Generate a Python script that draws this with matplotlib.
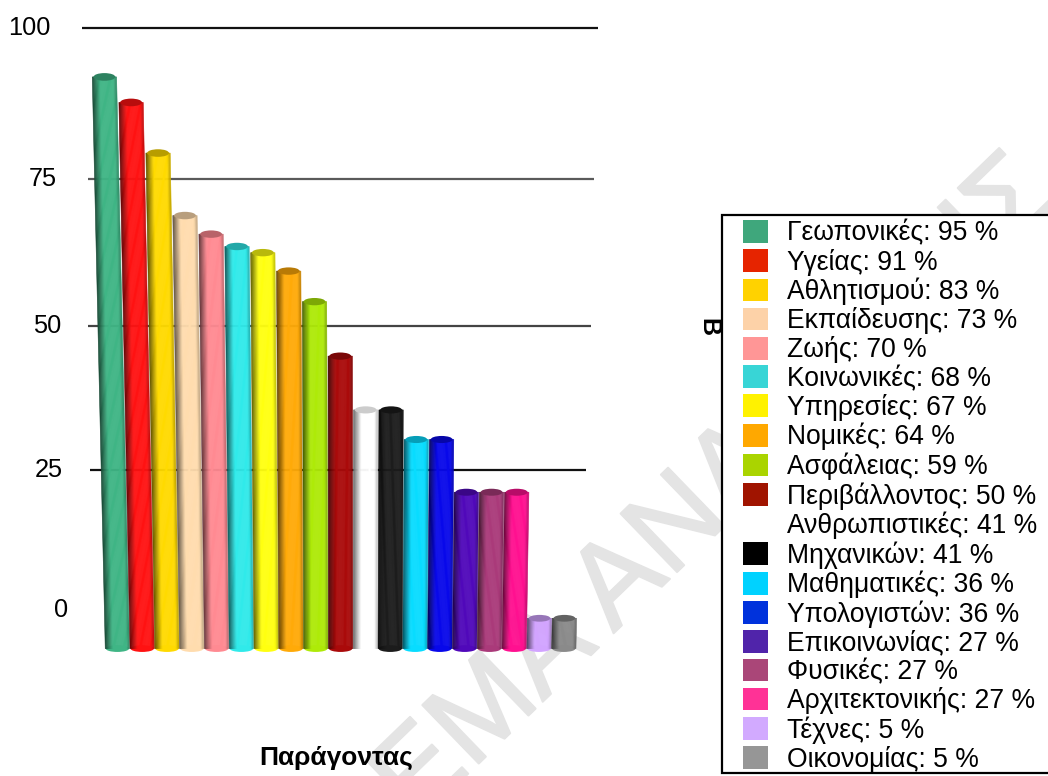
import numpy as np
import matplotlib
matplotlib.use("Agg")
import matplotlib.pyplot as plt
import matplotlib.patheffects as pe
from matplotlib.collections import PolyCollection
from matplotlib.colors import to_rgb
from matplotlib.patches import Ellipse, Patch, Rectangle

plt.rcParams['font.family'] = ['Liberation Sans', 'DejaVu Sans']

names = ["Γεωπονικές", "Υγείας", "Αθλητισμού", "Εκπαίδευσης", "Ζωής", "Κοινωνικές",
         "Υπηρεσίες", "Νομικές", "Ασφάλειας", "Περιβάλλοντος", "Ανθρωπιστικές",
         "Μηχανικών", "Μαθηματικές", "Υπολογιστών", "Επικοινωνίας", "Φυσικές",
         "Αρχιτεκτονικής", "Τέχνες", "Οικονομίας"]
values = [95, 91, 83, 73, 70, 68, 67, 64, 59, 50, 41, 41, 36, 36, 27, 27, 27, 5, 5]
bar_colors = ["#3fb585", "#ff1212", "#ffda00", "#ffdcae", "#ff8a92", "#30eaea", "#ffff10",
              "#ffaa08", "#aeea08", "#aa0a0a", "#ffffff", "#1c1c1c", "#08dcff", "#0808ea",
              "#5008ba", "#aa3a7a", "#ff1090", "#d2a4ff", "#8a8a8a"]
legend_colors = ["#3fa77c", "#e62400", "#ffd200", "#fdd2a8", "#ff9696", "#38d5d6", "#fff200",
                 "#ffa800", "#aad400", "#a01400", "#ffffff", "#000000", "#00d2ff", "#0032dc",
                 "#5024aa", "#aa4678", "#ff3296", "#d2aaff", "#969696"]
grid_levels = [100, 75, 50, 25]
grid_colors = ["#111111", "#5a5a5a", "#444444", "#111111"]
grid_starts = [82, 88, 88, 90]
grid_ends = [598, 594, 591, 586]
tick_levels = [100, 75, 50, 25, 0]
tick_right = [51, 57, 61, 63, 68]

W, H = 1048, 776
fig = plt.figure(figsize=(W / 100, H / 100), dpi=100)

# watermark sits under everything
fig.text(705 / W, 1 - 545 / H, "ΘΕΜΑ ΑΝΑΛΥΣΗΣ", fontsize=85, color="#e4e4e4", rotation=44,
         rotation_mode="anchor", ha="center", va="baseline", zorder=-1,
         path_effects=[pe.withStroke(linewidth=1.5, foreground="#e4e4e4")])


def persp_scale(a, b):
    # the picture is a tilted 3D view, so heights are not quite linear
    def forward(v):
        return a * np.asarray(v) + b * np.asarray(v) ** 2
    def inverse(u):
        return (-a + np.sqrt(np.maximum(a * a + 4 * b * np.asarray(u), 0))) / (2 * b)
    return forward, inverse


# back axes: grid lines and tick labels
grid_f, grid_i = persp_scale(5.54, 0.0028)
ax_grid = fig.add_axes([0, 0, 1, 1], zorder=1)
ax_grid.patch.set_alpha(0)
ax_grid.set_yscale("function", functions=(grid_f, grid_i))
ax_grid.set_ylim(grid_i(610 - H), grid_i(610))
ax_grid.set_xlim(0, W)
ax_grid.axis("off")
for lev, c, x0, x1 in zip(grid_levels, grid_colors, grid_starts, grid_ends):
    ax_grid.hlines(lev, x0, x1, color=c, lw=1.6)
for lev, xr in zip(tick_levels, tick_right):
    ax_grid.text(xr, lev, str(lev), ha="right", va="center", fontsize=18.3, color="black")

# front axes: cylinders, x in category units, y in value units
bar_f, bar_i = persp_scale(5.6, 0.0042)
ax = fig.add_axes([0, 0, 1, 1], zorder=2)
ax.patch.set_alpha(0)
ax.set_xlim(-117.4 / 24.8, (W - 117.4) / 24.8)
ax.set_yscale("function", functions=(bar_f, bar_i))
ax.set_ylim(bar_i(643 - H), bar_i(643))
ax.axis("off")

half = 0.49
cap_h = 0.6
n_strips = 22
edges = np.linspace(-1, 1, n_strips + 1)
mids = (edges[:-1] + edges[1:]) / 2


def shade(color, t):
    # dark left rim, bright middle, slightly dark right rim
    base = np.array(to_rgb(color))
    k = 1 - 0.62 * np.clip(-t - 0.35, 0, 1) / 0.65 - 0.25 * np.clip(t - 0.75, 0, 1) / 0.25
    return tuple(np.clip(base * k, 0, 1))


for i, (v, c) in enumerate(zip(values, bar_colors)):
    slant = (i - 9.5) * v * 5.8e-4
    top = v - cap_h
    bot = -1.0
    ax.add_patch(Ellipse((i, bot), 2 * half * 0.96, 2 * cap_h, color=shade(c, -0.1), lw=0, zorder=i * 3))
    polys = [[(i + half * e0, bot), (i + half * e1, bot),
              (i + slant + half * e1, top), (i + slant + half * e0, top)]
             for e0, e1 in zip(edges[:-1], edges[1:])]
    cols = [shade(c, t) for t in mids]
    ax.add_collection(PolyCollection(polys, facecolors=cols, edgecolors=cols, linewidths=0.4,
                                     zorder=i * 3 + 1))
    cap = tuple(np.array(to_rgb(c)) * 0.72) if c != "#ffffff" else "#cccccc"
    ax.add_patch(Ellipse((i + slant, top), 2 * half * 0.9, 2 * cap_h, color=cap, lw=0, zorder=i * 3 + 2))

# legend box runs off the right side of the image
fig.add_artist(Rectangle((722, 3), W, 558, transform=None, fc="white", ec="black", lw=1.6, zorder=3))
handles = [Patch(facecolor=c, edgecolor="none", label=f"{n}: {v} %")
           for n, v, c in zip(names, values, legend_colors)]
fs = 19.1
fs_px = fs * 100 / 72
leg = fig.legend(handles=handles, loc="upper left", bbox_to_anchor=(743 / W, 1 - 220 / H),
                 frameon=False, fontsize=fs, borderpad=0, borderaxespad=0,
                 handlelength=25 / fs_px, handleheight=25 / fs_px,
                 handletextpad=19 / fs_px, labelspacing=0.078, labelcolor="black")
leg.set_zorder(4)

fig.text(708 / W, 1 - 327 / H, "Β", rotation=-90, ha="center", va="center",
         fontsize=18, fontweight="bold", zorder=4)
fig.text(336 / W, 1 - 758 / H, "Παράγοντας", ha="center", va="center",
         fontsize=19, fontweight="bold", zorder=4)

fig.savefig("out.png", dpi=100)
